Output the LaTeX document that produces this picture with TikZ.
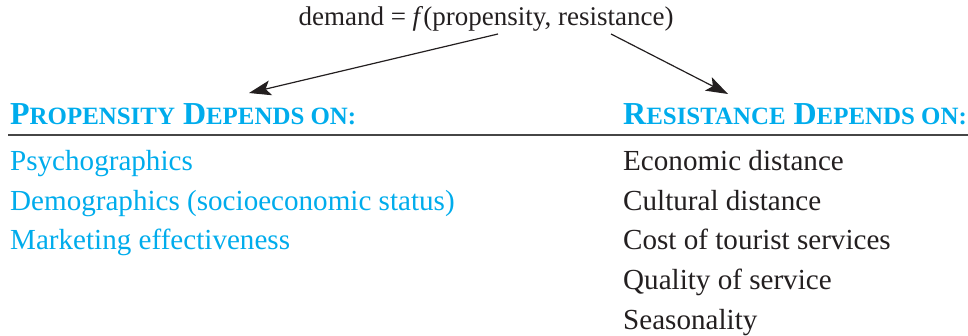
\documentclass[tikz,border=0pt]{standalone}
\usepackage{fontspec}
\setmainfont{Liberation Serif}
\usetikzlibrary{arrows.meta}
\definecolor{cyanT}{RGB}{0,172,236}
\definecolor{inkT}{RGB}{35,31,32}
\definecolor{ruleT}{RGB}{70,70,70}
\newcommand\hsc[2]{{\fontsize{32}{34}\selectfont #1}{\fontsize{24.9}{28}\selectfont #2}}
\begin{document}
\begin{tikzpicture}[x=1pt,y=-1pt,
  body/.style={anchor=base west,inner sep=0pt,font=\fontsize{29.1}{32}\selectfont},
  leftitem/.style={body,text=cyanT},
  rightitem/.style={body,text=inkT},
  header/.style={anchor=base west,inner sep=0pt,text=cyanT,font=\bfseries\fontsize{32}{34}\selectfont},
  conn/.style={draw=inkT,line width=1.2pt,-{Stealth[length=22pt,width=15pt,inset=5pt]}}]
\useasboundingbox (0,0) rectangle (968,336);
\node[anchor=base,inner sep=0pt,text=inkT,font=\fontsize{27}{30}\selectfont] (eq) at (486,26) {demand = \textit{f}(propensity, resistance)};
\node[header] (hl) at (10,125) {\hsc{P}{ROPENSITY}\hsc{ D}{EPENDS ON:}};
\node[header] (hr) at (623,125) {\hsc{R}{ESISTANCE}\hsc{ D}{EPENDS ON:}};
\coordinate (rl) at (8,135);
\coordinate (rr) at (968,135);
\draw[ruleT,line width=2pt] (rl) -- (rr);
\coordinate (tl) at (498,34);
\coordinate (hl1) at (249,93);
\coordinate (tr) at (611,34);
\coordinate (hr1) at (728,94);
\draw[conn] (tl) -- (hl1);
\draw[conn] (tr) -- (hr1);
\node[leftitem] (l1) at (10,171) {Psychographics};
\node[leftitem] (l2) at (10,210.5) {Demographics (socioeconomic status)};
\node[leftitem] (l3) at (10,250) {Marketing effectiveness};
\node[rightitem] (r1) at (623,171) {Economic distance};
\node[rightitem] (r2) at (623,210.5) {Cultural distance};
\node[rightitem] (r3) at (623,250) {Cost of tourist services};
\node[rightitem] (r4) at (623,289.5) {Quality of service};
\node[rightitem] (r5) at (623,329) {Seasonality};
\end{tikzpicture}
\end{document}
